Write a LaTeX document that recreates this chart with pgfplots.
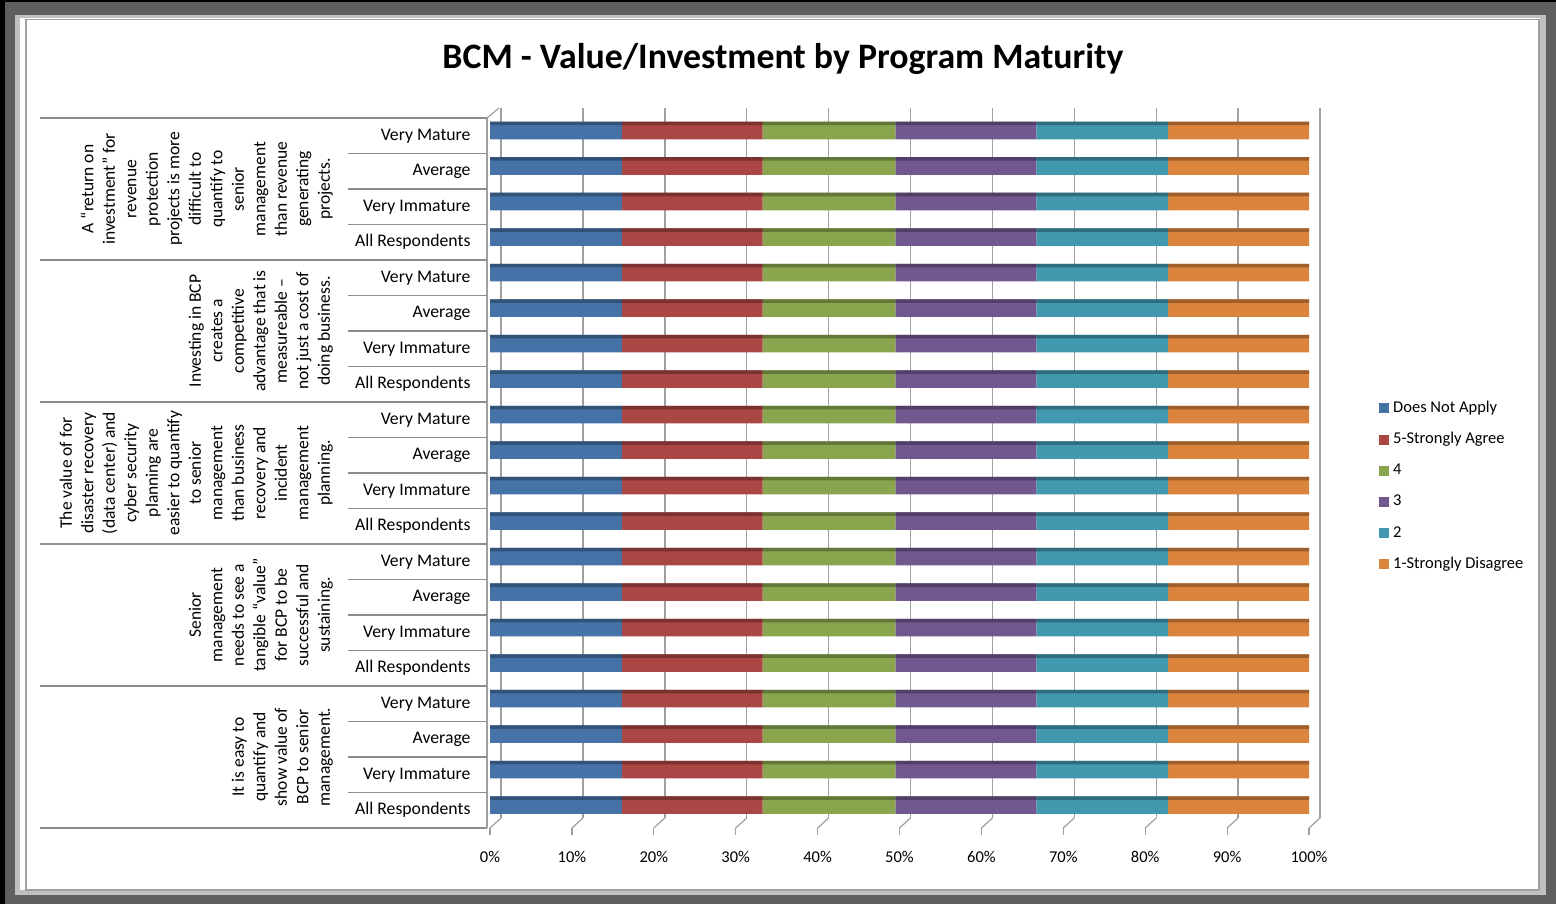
\documentclass[border=0pt]{standalone}
\usepackage{fontspec}
\setmainfont{Carlito}
\usepackage{pgfplots}
\usepackage{pgfplotstable}
\pgfplotsset{compat=1.18}

\definecolor{cBlue}{HTML}{4572A7}
\definecolor{cRed}{HTML}{AA4643}
\definecolor{cGreen}{HTML}{89A54E}
\definecolor{cPurple}{HTML}{71588F}
\definecolor{cTeal}{HTML}{4198AF}
\definecolor{cOrange}{HTML}{DB843D}
\definecolor{frameDark}{HTML}{5F5F5F}
\definecolor{frameLight}{HTML}{C0C0C0}
\definecolor{frameLine}{HTML}{A0A0A0}
\definecolor{sepLine}{HTML}{8C8C8C}

% rows: y=20 is the top row (first statement, Very Mature), y=1 the bottom row
\pgfplotstableread{
y  dna   s5   s4   s3   s2   s1
1  16.1 17.2 16.2 17.2 16.1 17.2
2  16.1 17.2 16.2 17.2 16.1 17.2
3  16.1 17.2 16.2 17.2 16.1 17.2
4  16.1 17.2 16.2 17.2 16.1 17.2
5  16.1 17.2 16.2 17.2 16.1 17.2
6  16.1 17.2 16.2 17.2 16.1 17.2
7  16.1 17.2 16.2 17.2 16.1 17.2
8  16.1 17.2 16.2 17.2 16.1 17.2
9  16.1 17.2 16.2 17.2 16.1 17.2
10 16.1 17.2 16.2 17.2 16.1 17.2
11 16.1 17.2 16.2 17.2 16.1 17.2
12 16.1 17.2 16.2 17.2 16.1 17.2
13 16.1 17.2 16.2 17.2 16.1 17.2
14 16.1 17.2 16.2 17.2 16.1 17.2
15 16.1 17.2 16.2 17.2 16.1 17.2
16 16.1 17.2 16.2 17.2 16.1 17.2
17 16.1 17.2 16.2 17.2 16.1 17.2
18 16.1 17.2 16.2 17.2 16.1 17.2
19 16.1 17.2 16.2 17.2 16.1 17.2
20 16.1 17.2 16.2 17.2 16.1 17.2
}\bcmdata

\pgfplotsset{bcmbase/.style={
  at={(490pt,-828pt)}, anchor=south west,
  scale only axis, width=819pt, height=710pt,
  xbar stacked, xmin=0, xmax=100, ymin=0.5, ymax=20.5,
}}

\begin{document}
\begin{tikzpicture}[x=1pt,y=1pt]
% frame
\fill[black] (0,0) rectangle (1556,-904);
\fill[frameDark] (5,-2) rectangle (1556,-904);
\fill[frameLight] (15,-15) rectangle (1546,-895);
\fill[white] (20,-18) rectangle (1540,-890);
\draw[frameLine, line width=1.2pt] (26,-19.5) rectangle (1539,-890);

% title
\node[font=\bfseries\fontsize{35.8}{40}\selectfont] at (783,-58.5) {BCM - Value/Investment by Program Maturity};

\begin{axis}[bcmbase,
  bar width=17.5pt, bar shift=5.25pt,
  axis line style={draw=none},
  xtick={0,10,...,100},
  xticklabels={0\%,10\%,20\%,30\%,40\%,50\%,60\%,70\%,80\%,90\%,100\%},
  xticklabel style={font=\fontsize{16.5}{20}\selectfont, yshift=-13pt},
  xtick pos=left,
  x tick style={draw=frameLine, line width=1.2pt},
  tick align=outside, major tick length=7pt,
  ytick={1,...,20},
  yticklabels={All Respondents,Very Immature,Average,Very Mature,
               All Respondents,Very Immature,Average,Very Mature,
               All Respondents,Very Immature,Average,Very Mature,
               All Respondents,Very Immature,Average,Very Mature,
               All Respondents,Very Immature,Average,Very Mature},
  y tick style={draw=none},
  yticklabel style={font=\fontsize{17.7}{21}\selectfont, xshift=-9pt},
  xmajorgrids,
  major grid style={draw=frameLine, line width=1.4pt, xshift=11pt, yshift=10pt},
  clip=false,
  legend style={at={(axis description cs:1.0855,0.604)}, anchor=north west,
    draw=none, fill=none, inner sep=0pt,
    font=\fontsize{16.5}{20}\selectfont, row sep=13.2pt,
    nodes={inner sep=1pt, text height=12pt, text depth=4pt},
    /tikz/every odd column/.append style={column sep=3pt}},
  legend cell align=left,
  legend image code/.code={\fill[#1] (0pt,-5pt) rectangle (10pt,5pt);},
]
\addplot[fill=cBlue, draw=none] table[x=dna,y=y]{\bcmdata};
\addplot[fill=cRed, draw=none] table[x=s5,y=y]{\bcmdata};
\addplot[fill=cGreen, draw=none] table[x=s4,y=y]{\bcmdata};
\addplot[fill=cPurple, draw=none] table[x=s3,y=y]{\bcmdata};
\addplot[fill=cTeal, draw=none] table[x=s2,y=y]{\bcmdata};
\addplot[fill=cOrange, draw=none] table[x=s1,y=y]{\bcmdata};
\legend{Does Not Apply,5-Strongly Agree,4,3,2,1-Strongly Disagree}
\pgfplotsinvokeforeach{0,10,...,100}{
  \draw[frameLine, line width=1.2pt] (axis cs:#1,0.5) -- ++(11pt,10pt);
}
\end{axis}

% darker top faces of the bars
\begin{axis}[bcmbase, hide axis, bar width=3.5pt, bar shift=12.25pt]
\addplot[fill=cBlue!72!black, draw=none] table[x=dna,y=y]{\bcmdata};
\addplot[fill=cRed!72!black, draw=none] table[x=s5,y=y]{\bcmdata};
\addplot[fill=cGreen!72!black, draw=none] table[x=s4,y=y]{\bcmdata};
\addplot[fill=cPurple!72!black, draw=none] table[x=s3,y=y]{\bcmdata};
\addplot[fill=cTeal!72!black, draw=none] table[x=s2,y=y]{\bcmdata};
\addplot[fill=cOrange!72!black, draw=none] table[x=s1,y=y]{\bcmdata};
\end{axis}

% left wall edge
\draw[frameLine, line width=1.2pt] (487,-118) -- (487,-828);
\draw[frameLine, line width=1.2pt] (487,-118) -- (499,-108);

% category separators
\foreach \k in {0,...,20}{
  \pgfmathtruncatemacro{\m}{mod(\k,4)}
  \pgfmathsetmacro{\yy}{-(118+35.5*\k)}
  \ifnum\m=0
    \draw[sepLine, line width=1.2pt] (40,\yy) -- (487,\yy);
  \else
    \draw[sepLine, line width=1.2pt] (348,\yy) -- (487,\yy);
  \fi
}

% statement labels
\begin{scope}[every node/.style={rotate=90, anchor=south, inner sep=0pt, align=center,
    font=\fontsize{17.5}{21.5}\selectfont}]
\node at (333,-189) {A “return on\\investment” for\\revenue\\protection\\projects is more\\difficult to\\quantify to\\senior\\management\\than revenue\\generating\\projects.};
\node at (333,-331) {Investing in BCP\\creates a\\competitive\\advantage that is\\measureable –\\not just a cost of\\doing business.};
\node at (333,-473) {The value of for\\disaster recovery\\(data center) and\\cyber security\\planning are\\easier to quantify\\to senior\\management\\than business\\recovery and\\incident\\management\\planning.};
\node at (333,-615) {Senior\\management\\needs to see a\\tangible “value”\\for BCP to be\\successful and\\sustaining.};
\node at (333,-757) {It is easy to\\quantify and\\show value of\\BCP to senior\\management.};
\end{scope}
\end{tikzpicture}
\end{document}
